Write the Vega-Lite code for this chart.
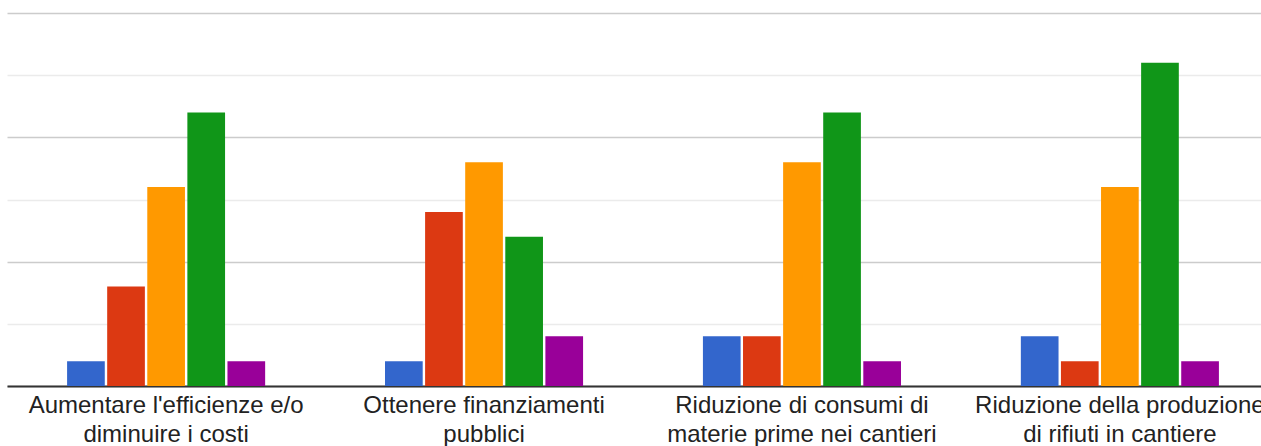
{
  "$schema": "https://vega.github.io/schema/vega-lite/v6.json",
  "width": 1272,
  "height": 373,
  "autosize": {"type": "none"},
  "padding": {"left": 7, "top": 13, "right": -18, "bottom": 60},
  "background": "white",
  "config": {"view": {"stroke": null}, "font": "Liberation Sans"},
  "data": {
    "values": [
      {"motivo": "Aumentare l'efficienze e/o diminuire i costi", "voto": "1", "risposte": 1},
      {"motivo": "Aumentare l'efficienze e/o diminuire i costi", "voto": "2", "risposte": 4},
      {"motivo": "Aumentare l'efficienze e/o diminuire i costi", "voto": "3", "risposte": 8},
      {"motivo": "Aumentare l'efficienze e/o diminuire i costi", "voto": "4", "risposte": 11},
      {"motivo": "Aumentare l'efficienze e/o diminuire i costi", "voto": "5", "risposte": 1},
      {"motivo": "Ottenere finanziamenti pubblici", "voto": "1", "risposte": 1},
      {"motivo": "Ottenere finanziamenti pubblici", "voto": "2", "risposte": 7},
      {"motivo": "Ottenere finanziamenti pubblici", "voto": "3", "risposte": 9},
      {"motivo": "Ottenere finanziamenti pubblici", "voto": "4", "risposte": 6},
      {"motivo": "Ottenere finanziamenti pubblici", "voto": "5", "risposte": 2},
      {"motivo": "Riduzione di consumi di materie prime nei cantieri", "voto": "1", "risposte": 2},
      {"motivo": "Riduzione di consumi di materie prime nei cantieri", "voto": "2", "risposte": 2},
      {"motivo": "Riduzione di consumi di materie prime nei cantieri", "voto": "3", "risposte": 9},
      {"motivo": "Riduzione di consumi di materie prime nei cantieri", "voto": "4", "risposte": 11},
      {"motivo": "Riduzione di consumi di materie prime nei cantieri", "voto": "5", "risposte": 1},
      {"motivo": "Riduzione della produzione di rifiuti in cantiere", "voto": "1", "risposte": 2},
      {"motivo": "Riduzione della produzione di rifiuti in cantiere", "voto": "2", "risposte": 1},
      {"motivo": "Riduzione della produzione di rifiuti in cantiere", "voto": "3", "risposte": 8},
      {"motivo": "Riduzione della produzione di rifiuti in cantiere", "voto": "4", "risposte": 13},
      {"motivo": "Riduzione della produzione di rifiuti in cantiere", "voto": "5", "risposte": 1}
    ]
  },
  "mark": {"type": "bar"},
  "encoding": {
    "x": {
      "field": "motivo",
      "type": "nominal",
      "sort": null,
      "scale": {"paddingInner": 0.377, "paddingOuter": 0.189},
      "axis": {
        "title": null,
        "labelAngle": 0,
        "ticks": false,
        "domain": true,
        "domainColor": "#333333",
        "domainWidth": 2,
        "labelFontSize": 24,
        "labelColor": "#222222",
        "labelPadding": 7,
        "labelLineHeight": 29,
        "labelLimit": 0,
        "labelOverlap": false,
        "labelExpr": "datum.value === \"Aumentare l'efficienze e/o diminuire i costi\" ? [\"Aumentare l'efficienze e/o\", \"diminuire i costi\"] : datum.value === \"Ottenere finanziamenti pubblici\" ? [\"Ottenere finanziamenti\", \"pubblici\"] : datum.value === \"Riduzione di consumi di materie prime nei cantieri\" ? [\"Riduzione di consumi di\", \"materie prime nei cantieri\"] : [\"Riduzione della produzione\", \"di rifiuti in cantiere\"]"
      }
    },
    "xOffset": {
      "field": "voto",
      "type": "nominal",
      "scale": {"paddingInner": 0.06, "paddingOuter": 0}
    },
    "y": {
      "field": "risposte",
      "type": "quantitative",
      "scale": {"domain": [0, 15], "nice": false},
      "axis": {
        "title": null,
        "labels": false,
        "ticks": false,
        "domain": false,
        "values": [0, 2.5, 5, 7.5, 10, 12.5, 15],
        "gridColor": {"condition": {"test": "datum.value % 5 === 0", "value": "#cccccc"}, "value": "#ebebeb"},
        "gridWidth": 1.5
      }
    },
    "color": {
      "field": "voto",
      "type": "nominal",
      "scale": {"domain": ["1", "2", "3", "4", "5"], "range": ["#3366cc", "#dc3912", "#ff9900", "#109618", "#990099"]},
      "legend": null
    }
  }
}
